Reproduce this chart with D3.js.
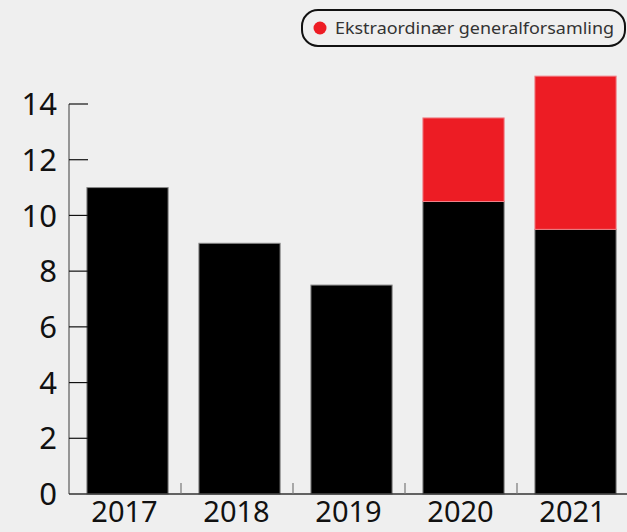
<!DOCTYPE html>
<html><head><meta charset="utf-8">
<script src="https://cdn.jsdelivr.net/npm/d3@7"></script>
<style>
html,body{margin:0;padding:0;background:#efefef;}
svg{display:block;}
text{font-family:"Noto Sans","Open Sans",sans-serif;}
</style></head>
<body>
<script>
const categories = ["2017","2018","2019","2020","2021"];
const ordinary = [11, 9, 7.5, 10.5, 9.5];
const extraordinary = [0, 0, 0, 3, 5.5];
const yTicks = [0,2,4,6,8,10,12,14];
const legendLabel = "Ekstraordinær generalforsamling";

const W = 627, H = 532;
const svg = d3.select("body").append("svg").attr("width", W).attr("height", H);
svg.append("rect").attr("width", W).attr("height", H).attr("fill", "#efefef");

const x = d3.scaleBand().domain(categories).range([69, 629]).padding(0);
const y = d3.scaleLinear().domain([0, 14]).range([494, 104]);

const bw = x.bandwidth();
const barOff = bw * 0.16, barW = bw * 0.725;

const data = categories.map((c, i) => ({c, a: ordinary[i], b: extraordinary[i]}));

// black bars
svg.selectAll("rect.ord").data(data).enter().append("rect")
  .attr("x", d => x(d.c) + barOff).attr("width", barW)
  .attr("y", d => y(d.a)).attr("height", d => y(0) - y(d.a))
  .attr("fill", "#000").attr("stroke", "#888").attr("stroke-width", 1);
// red bars
svg.selectAll("rect.ext").data(data.filter(d => d.b > 0)).enter().append("rect")
  .attr("x", d => x(d.c) + barOff).attr("width", barW)
  .attr("y", d => y(d.a + d.b)).attr("height", d => y(d.a) - y(d.a + d.b))
  .attr("fill", "#ed1c24").attr("stroke", "#f08088").attr("stroke-width", 1);

// y axis
const gy = svg.append("g").attr("transform", "translate(69,0)");
gy.append("line").attr("y1", y(14)).attr("y2", y(0)).attr("stroke", "#777").attr("stroke-width", 1.5);
gy.selectAll("line.t").data(yTicks.filter(t => t > 0)).enter().append("line")
  .attr("x1", 0).attr("x2", 19).attr("y1", d => y(d)).attr("y2", d => y(d))
  .attr("stroke", "#111").attr("stroke-width", 1.2);
gy.selectAll("text").data(yTicks).enter().append("text")
  .attr("x", -12).attr("y", d => y(d)).attr("dy", "0.36em")
  .attr("text-anchor", "end").attr("font-size", 31).attr("fill", "#111")
  .text(d => d);

// x axis
const gx = svg.append("g");
gx.append("line").attr("x1", 69).attr("x2", W).attr("y1", y(0)).attr("y2", y(0))
  .attr("stroke", "#333").attr("stroke-width", 1.5);
gx.selectAll("line.t").data(categories).enter().append("line")
  .attr("x1", d => x(d) + bw).attr("x2", d => x(d) + bw)
  .attr("y1", y(0)).attr("y2", y(0) - 11)
  .attr("stroke", "#777").attr("stroke-width", 1.2);
gx.selectAll("text").data(categories).enter().append("text")
  .attr("x", d => x(d) + barOff + barW / 2 - 3).attr("y", 522)
  .attr("text-anchor", "middle").attr("font-size", 29).attr("fill", "#111")
  .text(d => d);

// legend
const lg = svg.append("g");
lg.append("rect").attr("x", 302).attr("y", 10).attr("width", 323).attr("height", 36)
  .attr("rx", 16).attr("ry", 16).attr("fill", "#efefef").attr("stroke", "#111").attr("stroke-width", 2);
lg.append("circle").attr("cx", 320).attr("cy", 28).attr("r", 6.5).attr("fill", "#ed1c24");
lg.append("text").attr("x", 335).attr("y", 34).attr("font-size", 16.5).attr("fill", "#333")
  .attr("textLength", 279).attr("lengthAdjust", "spacingAndGlyphs")
  .text(legendLabel);
</script>
</body></html>
